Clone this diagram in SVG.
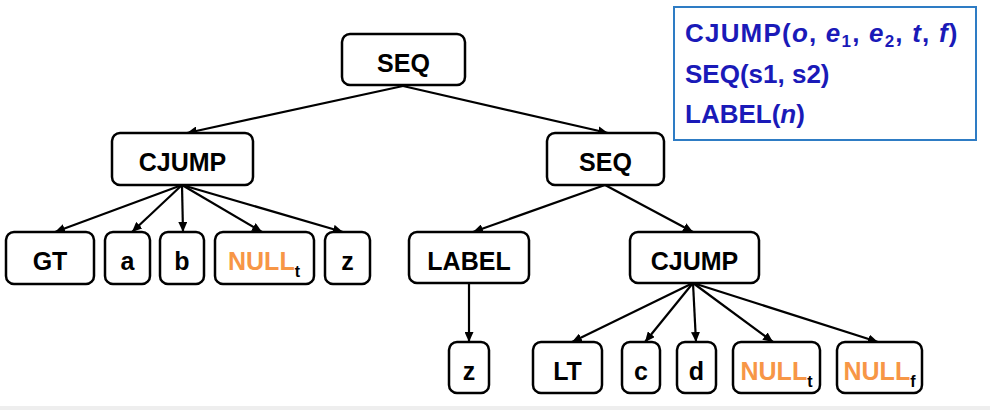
<svg xmlns="http://www.w3.org/2000/svg" width="990" height="410" viewBox="0 0 990 410">
<style>
  .box { fill: #ffffff; stroke: #000000; stroke-width: 2.5; }
  .lbl { font-family: "Liberation Sans", Arial, sans-serif; font-weight: bold; font-size: 25px; fill: #000000; text-anchor: middle; }
  .nul { fill: #F79646; }
  .sub { font-size: 16px; fill: #000000; }
  .edge { stroke: #000000; stroke-width: 2.2; fill: none; marker-end: url(#arr); }
  .leg { font-family: "Liberation Sans", Arial, sans-serif; font-weight: bold; font-size: 26px; fill: #1A1AB8; }
  .legsub { font-size: 17px; }
</style>
<defs>
  <marker id="arr" markerUnits="userSpaceOnUse" markerWidth="11" markerHeight="9" refX="10" refY="4.5" orient="auto">
    <path d="M0,0 L10,4.5 L0,9 z" fill="#000000"/>
  </marker>
</defs>
<rect x="0" y="0" width="990" height="410" fill="#ffffff"/>
<rect x="0" y="406" width="990" height="4" fill="#eeeeee"/>

<g id="connectors">
  <line class="edge" x1="403" y1="86" x2="187" y2="133"/>
  <line class="edge" x1="403" y1="86" x2="608" y2="133"/>
  <line class="edge" x1="182" y1="185" x2="55" y2="232"/>
  <line class="edge" x1="182" y1="185" x2="132" y2="232"/>
  <line class="edge" x1="182" y1="185" x2="183" y2="232"/>
  <line class="edge" x1="182" y1="185" x2="262" y2="232"/>
  <line class="edge" x1="182" y1="185" x2="343" y2="232"/>
  <line class="edge" x1="605" y1="185" x2="473" y2="232"/>
  <line class="edge" x1="605" y1="185" x2="693" y2="232"/>
  <line class="edge" x1="469" y1="283" x2="469" y2="342"/>
  <line class="edge" x1="693" y1="283" x2="572" y2="342"/>
  <line class="edge" x1="693" y1="283" x2="645" y2="342"/>
  <line class="edge" x1="693" y1="283" x2="696" y2="342"/>
  <line class="edge" x1="693" y1="283" x2="773" y2="342"/>
  <line class="edge" x1="693" y1="283" x2="878" y2="342"/>
</g>

<g id="seq0"><rect class="box" x="342" y="34" width="123" height="51" rx="8"/><text class="lbl" x="403.5" y="71.5">SEQ</text></g>
<g id="cjump1"><rect class="box" x="112" y="133" width="141" height="52" rx="8"/><text class="lbl" x="182.5" y="171">CJUMP</text></g>
<g id="seq1"><rect class="box" x="547" y="133" width="117" height="52" rx="8"/><text class="lbl" x="605.5" y="171">SEQ</text></g>

<g id="gt"><rect class="box" x="6" y="232" width="88" height="52" rx="8"/><text class="lbl" x="50" y="270">GT</text></g>
<g id="a"><rect class="box" x="105" y="232" width="45" height="52" rx="8"/><text class="lbl" x="127.5" y="270">a</text></g>
<g id="b"><rect class="box" x="160" y="232" width="44" height="52" rx="8"/><text class="lbl" x="182" y="270">b</text></g>
<g id="nullt1"><rect class="box" x="215" y="232" width="99" height="52" rx="8"/><text class="lbl" x="264" y="270"><tspan class="nul">NULL</tspan><tspan class="sub" dy="7">t</tspan></text></g>
<g id="z1"><rect class="box" x="325" y="232" width="45" height="52" rx="8"/><text class="lbl" x="347.5" y="270">z</text></g>

<g id="label"><rect class="box" x="409" y="232" width="120" height="51" rx="8"/><text class="lbl" x="469" y="269.5">LABEL</text></g>
<g id="cjump2"><rect class="box" x="630" y="232" width="129" height="51" rx="8"/><text class="lbl" x="694.5" y="269.5">CJUMP</text></g>

<g id="z2"><rect class="box" x="449" y="342" width="40" height="51" rx="8"/><text class="lbl" x="469" y="379.5">z</text></g>
<g id="lt"><rect class="box" x="533" y="342" width="69" height="51" rx="8"/><text class="lbl" x="567.5" y="379.5">LT</text></g>
<g id="c"><rect class="box" x="622" y="342" width="38" height="51" rx="8"/><text class="lbl" x="641" y="379.5">c</text></g>
<g id="d"><rect class="box" x="677" y="342" width="39" height="51" rx="8"/><text class="lbl" x="696.5" y="379.5">d</text></g>
<g id="nullt2"><rect class="box" x="733" y="342" width="87" height="51" rx="8"/><text class="lbl" x="776.5" y="379.5"><tspan class="nul">NULL</tspan><tspan class="sub" dy="7">t</tspan></text></g>
<g id="nullf"><rect class="box" x="837" y="342" width="85" height="51" rx="8"/><text class="lbl" x="879.5" y="379.5"><tspan class="nul">NULL</tspan><tspan class="sub" dy="7">f</tspan></text></g>

<g id="legend">
  <rect x="674" y="7" width="302" height="133" fill="#ffffff" stroke="#2E7CC4" stroke-width="2"/>
  <text class="leg" x="685" y="42" letter-spacing="1.2">CJUMP(<tspan font-style="italic">o</tspan>, <tspan font-style="italic">e</tspan><tspan class="legsub" dy="5">1</tspan><tspan dy="-5">, </tspan><tspan font-style="italic">e</tspan><tspan class="legsub" dy="5">2</tspan><tspan dy="-5">, </tspan><tspan font-style="italic">t</tspan>, <tspan font-style="italic">f</tspan>)</text>
  <text class="leg" x="685" y="83">SEQ(s1, s2)</text>
  <text class="leg" x="685" y="123">LABEL(<tspan font-style="italic">n</tspan>)</text>
</g>
</svg>
